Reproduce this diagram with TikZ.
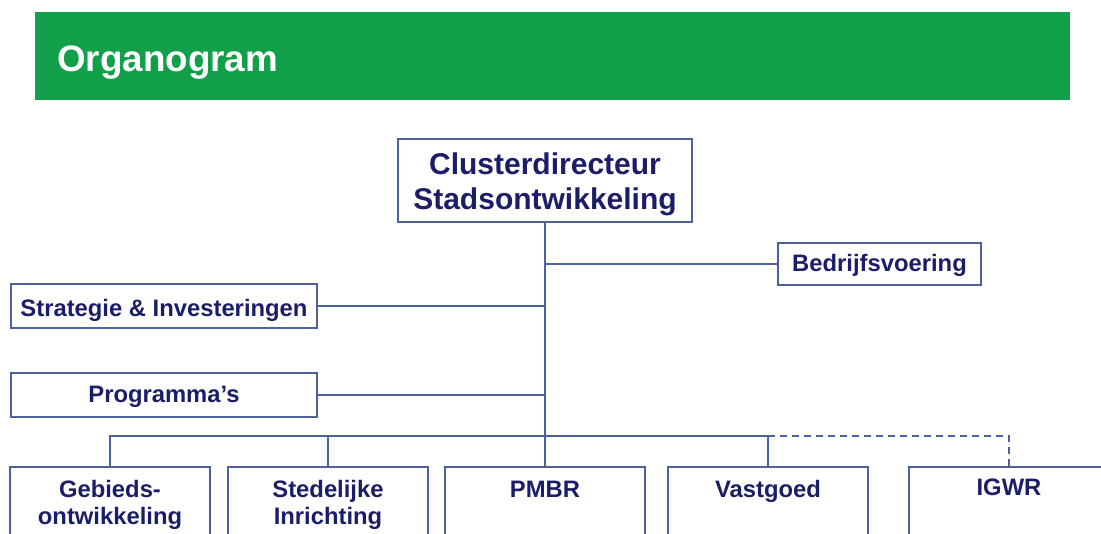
\documentclass[tikz,border=0pt]{standalone}
\usepackage{fontspec}
\setmainfont{Liberation Sans}
\usetikzlibrary{calc}
\definecolor{bannergreen}{RGB}{17,159,74}
\definecolor{navy}{RGB}{26,30,104}
\definecolor{linecol}{RGB}{78,96,158}
\begin{document}
\begin{tikzpicture}[x=1pt,y=-1pt,
  box/.style={draw=linecol, line width=1.7pt, fill=white, rectangle, inner sep=0pt, outer sep=0pt, anchor=north west},
  conn/.style={draw=linecol, line width=1.8pt},
  dashconn/.style={draw=linecol, line width=1.7pt, dash pattern=on 7pt off 5pt},
  lbl/.style={text=navy, font=\fontsize{23.8}{28}\selectfont\bfseries, inner sep=0pt, anchor=base},
  biglbl/.style={text=navy, font=\fontsize{30}{34}\selectfont\bfseries, inner sep=0pt, anchor=base},
  lowbox/.style={box, minimum width=200pt, minimum height=120pt}
]
\clip (0,0) rectangle (1101,534);
\useasboundingbox (0,0) rectangle (1101,534);
\fill[white] (0,0) rectangle (1101,534);

% banner
\node[fill=bannergreen, anchor=north west, minimum width=1035pt, minimum height=88pt, inner sep=0pt, outer sep=0pt] (banner) at (35,12) {};
\node[text=white, font=\fontsize{36.8}{40}\selectfont\bfseries, anchor=base west, inner sep=0pt] (title) at (57,71.5) {Organogram};

% boxes
\node[box, minimum width=203pt, minimum height=42pt] (bedr) at (778,243) {};
\node[box, minimum width=306pt, minimum height=44pt] (strat) at (11,284) {};
\node[box, minimum width=306pt, minimum height=44pt] (prog) at (11,373) {};
\node[box, minimum width=294pt, minimum height=83pt] (top) at (398,139) {};
\node[lowbox] (geb) at (10,467) {};
\node[lowbox] (sted) at (228,467) {};
\node[lowbox] (pmbr) at (445,467) {};
\node[lowbox] (vast) at (668,467) {};
\node[lowbox] (igwr) at (909,467) {};

% connectors
\coordinate (bus) at (545,436);
\draw[conn] (top.south) -- (pmbr.north);
\draw[conn] (bedr.west) -- (bedr.west -| top.south);
\draw[conn] (strat.east) -- (strat.east -| top.south);
\draw[conn] (prog.east) -- (prog.east -| top.south);
\draw[conn] (geb.north) -- (geb.north |- bus) -- (vast.north |- bus) -- (vast.north);
\draw[conn] (sted.north) -- (sted.north |- bus);
\draw[dashconn] (vast.north |- bus) -| (igwr.north);

% texts
\node[biglbl] (toptxta) at (545,175) {Clusterdirecteur};
\node[biglbl] (toptxtb) at (545,209.5) {Stadsontwikkeling};
\node[lbl] (bedrtxt) at (879.5,272) {Bedrijfsvoering};
\node[lbl] (strattxt) at (164,316.4) {Strategie \& Investeringen};
\node[lbl] (progtxt) at (164,403) {Programma’s};
\node[lbl] (gebtxta) at ($(geb.north)+(0,30)$) {Gebieds-};
\node[lbl] (gebtxtb) at ($(geb.north)+(0,58)$) {ontwikkeling};
\node[lbl] (stedtxta) at ($(sted.north)+(0,30)$) {Stedelijke};
\node[lbl] (stedtxtb) at ($(sted.north)+(0,58)$) {Inrichting};
\node[lbl] (pmbrtxt) at ($(pmbr.north)+(0,30)$) {PMBR};
\node[lbl] (vasttxt) at ($(vast.north)+(0,30)$) {Vastgoed};
\node[lbl] (igwrtxt) at ($(igwr.north)+(0,29)$) {IGWR};
\end{tikzpicture}
\end{document}
